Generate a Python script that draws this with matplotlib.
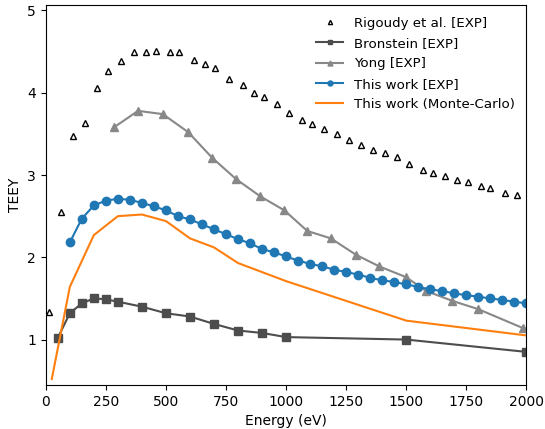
import matplotlib
matplotlib.use("Agg")
import matplotlib.pyplot as plt

# Rigoudy et al. [EXP]
rig_e = [14, 64, 115, 165, 215, 258, 313, 367, 416, 459, 516, 556, 617, 662, 705,
         762, 820, 867, 910, 963, 1011, 1064, 1107, 1158, 1213, 1262, 1312, 1363,
         1413, 1461, 1512, 1569, 1613, 1662, 1713, 1756, 1809, 1848, 1910, 1960]
rig_y = [1.33, 2.55, 3.48, 3.63, 4.06, 4.27, 4.39, 4.49, 4.49, 4.51, 4.49, 4.49,
         4.40, 4.35, 4.30, 4.17, 4.10, 4.00, 3.95, 3.86, 3.75, 3.67, 3.62, 3.56,
         3.50, 3.43, 3.36, 3.30, 3.27, 3.22, 3.13, 3.06, 3.02, 2.99, 2.94, 2.91,
         2.87, 2.84, 2.78, 2.76]

# Bronstein [EXP]
bro_e = [50, 100, 150, 200, 250, 300, 400, 500, 600, 700, 800, 900, 1000, 1500, 2000]
bro_y = [1.02, 1.32, 1.44, 1.50, 1.49, 1.46, 1.40, 1.32, 1.28, 1.19, 1.11, 1.08,
         1.03, 1.00, 0.85]

# Yong [EXP]
yong_e = [284, 384, 487, 593, 692, 792, 893, 993, 1088, 1186, 1291, 1387, 1498,
          1583, 1692, 1799, 1985]
yong_y = [3.58, 3.78, 3.74, 3.52, 3.21, 2.95, 2.74, 2.57, 2.32, 2.23, 2.03, 1.89,
          1.76, 1.59, 1.47, 1.37, 1.14]

# This work [EXP]
tw_e = list(range(100, 2001, 50))
tw_y = [2.18, 2.47, 2.63, 2.69, 2.71, 2.70, 2.66, 2.62, 2.57, 2.50, 2.46, 2.40,
        2.34, 2.28, 2.22, 2.17, 2.10, 2.06, 2.01, 1.96, 1.92, 1.89, 1.85, 1.82,
        1.79, 1.75, 1.72, 1.70, 1.67, 1.64, 1.61, 1.59, 1.56, 1.54, 1.52, 1.50,
        1.48, 1.46, 1.44]

# This work (Monte-Carlo)
mc_e = [25, 100, 200, 300, 400, 500, 600, 700, 800, 1000, 1500, 2000]
mc_y = [0.52, 1.64, 2.27, 2.50, 2.52, 2.44, 2.23, 2.12, 1.93, 1.71, 1.23, 1.05]

fig = plt.figure(figsize=(5.45, 4.29), dpi=100)
ax = fig.add_axes([0.084, 0.103, 0.882, 0.886])

ax.plot(rig_e, rig_y, linestyle="none", marker="^", markersize=5,
        markerfacecolor="white", markeredgecolor="black", markeredgewidth=1,
        label="Rigoudy et al. [EXP]")
ax.plot(bro_e, bro_y, color="#4d4d4d", marker="s", markersize=6,
        label="Bronstein [EXP]")
ax.plot(yong_e, yong_y, color="#888888", marker="^", markersize=6,
        label="Yong [EXP]")
ax.plot(tw_e, tw_y, color="#1f77b4", marker="o", markersize=6,
        label="This work [EXP]")
ax.plot(mc_e, mc_y, color="#ff7f0e", label="This work (Monte-Carlo)")

ax.set_xlim(0, 2000)
ax.set_ylim(0.45, 5.07)
ax.set_xticks([0, 250, 500, 750, 1000, 1250, 1500, 1750, 2000])
ax.set_yticks([1, 2, 3, 4, 5])
ax.set_xlabel("Energy (eV)")
ax.set_ylabel("TEEY")
ax.legend(loc="upper right", frameon=False, markerscale=0.6,
          fontsize=9.6, labelspacing=0.55)

fig.savefig("out.png", dpi=100)
